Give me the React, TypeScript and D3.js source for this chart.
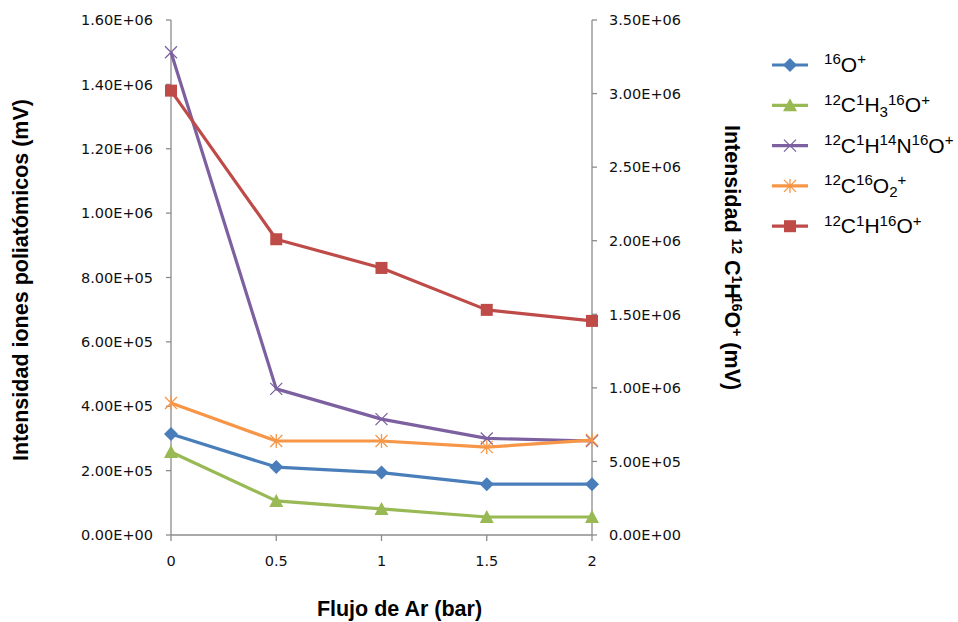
import React from "react";
import * as d3 from "d3";

const categories = ["0", "0.5", "1", "1.5", "2"];
const xValues = [0, 0.5, 1, 1.5, 2];
const seriesO = [314000, 211000, 194000, 158000, 158000];
const seriesCH3O = [258000, 106000, 81000, 56000, 56000];
const seriesCHNO = [1500000, 454000, 360000, 300000, 292000];
const seriesCO2 = [410000, 292000, 292000, 273000, 295000];
const seriesCHO = [3020000, 2010000, 1815000, 1530000, 1455000];
const leftTicks = [0, 200000, 400000, 600000, 800000, 1000000, 1200000, 1400000, 1600000];
const rightTicks = [0, 500000, 1000000, 1500000, 2000000, 2500000, 3000000, 3500000];

type Part = [string, "n" | "sup" | "sub"];
const labO: Part[] = [["16", "sup"], ["O", "n"], ["+", "sup"]];
const labCH3O: Part[] = [["12", "sup"], ["C", "n"], ["1", "sup"], ["H", "n"], ["3", "sub"], ["16", "sup"], ["O", "n"], ["+", "sup"]];
const labCHNO: Part[] = [["12", "sup"], ["C", "n"], ["1", "sup"], ["H", "n"], ["14", "sup"], ["N", "n"], ["16", "sup"], ["O", "n"], ["+", "sup"]];
const labCO2: Part[] = [["12", "sup"], ["C", "n"], ["16", "sup"], ["O", "n"], ["2", "sub"], ["+", "sup"]];
const labCHO: Part[] = [["12", "sup"], ["C", "n"], ["1", "sup"], ["H", "n"], ["16", "sup"], ["O", "n"], ["+", "sup"]];

const series = [
  { name: "O", values: seriesO, label: labO, color: "#4a7ebb", marker: "diamond", axis: "left" },
  { name: "CH3O", values: seriesCH3O, label: labCH3O, color: "#98b954", marker: "triangle", axis: "left" },
  { name: "CHNO", values: seriesCHNO, label: labCHNO, color: "#7d60a0", marker: "x", axis: "left" },
  { name: "CO2", values: seriesCO2, label: labCO2, color: "#f79646", marker: "star", axis: "left" },
  { name: "CHO", values: seriesCHO, label: labCHO, color: "#be4b48", marker: "square", axis: "right" },
];

function fmtE(v: number) {
  if (v === 0) return "0.00E+00";
  const e = Math.floor(Math.log10(v) + 1e-9);
  const m = v / Math.pow(10, e);
  return m.toFixed(2) + "E+" + String(e).padStart(2, "0");
}

function Marker({ type, x, y, color }: { type: string; x: number; y: number; color: string }) {
  if (type === "diamond") {
    const s = 7;
    return <path d={`M${x},${y - s}L${x + s},${y}L${x},${y + s}L${x - s},${y}Z`} fill={color} />;
  }
  if (type === "triangle") {
    const s = 7;
    return <path d={`M${x},${y - s}L${x + s},${y + s - 1}L${x - s},${y + s - 1}Z`} fill={color} />;
  }
  if (type === "square") {
    const s = 6;
    return <rect x={x - s} y={y - s} width={2 * s} height={2 * s} fill={color} />;
  }
  if (type === "x") {
    const s = 6;
    return (
      <path d={`M${x - s},${y - s}L${x + s},${y + s}M${x - s},${y + s}L${x + s},${y - s}`} stroke={color} strokeWidth={1.3} fill="none" />
    );
  }
  const s = 6;
  return (
    <path
      d={`M${x - s},${y - s}L${x + s},${y + s}M${x - s},${y + s}L${x + s},${y - s}M${x},${y - s - 1}L${x},${y + s + 1}`}
      stroke={color}
      strokeWidth={1.3}
      fill="none"
    />
  );
}

function Formula({ parts, size }: { parts: Part[]; size: number }) {
  const small = size * 0.72;
  let cur = 0;
  const out: React.ReactNode[] = [];
  parts.forEach((p, i) => {
    const target = p[1] === "sup" ? -size * 0.36 : p[1] === "sub" ? size * 0.2 : 0;
    const dy = target - cur;
    cur = target;
    out.push(
      <tspan key={i} dy={dy} fontSize={p[1] === "n" ? size : small}>
        {p[0]}
      </tspan>
    );
  });
  return <>{out}</>;
}

export default function App() {
  const W = 958, H = 622;
  const x0 = 171, x1 = 592, yTop = 20, yBot = 535;
  const x = d3.scaleLinear().domain([0, 2]).range([x0, x1]);
  const yL = d3.scaleLinear().domain([0, 1600000]).range([yBot, yTop]);
  const yR = d3.scaleLinear().domain([0, 3500000]).range([yBot, yTop]);
  const axisColor = "#8c8c8c";
  const tickFont = "'DejaVu Sans', Verdana, sans-serif";
  const arial = "'Liberation Sans', Arial, sans-serif";

  return (
    <svg width={W} height={H} style={{ position: "absolute", left: 0, top: 0, background: "#fff" }}>
      <rect width={W} height={H} fill="#fff" />
      {/* left axis */}
      <line x1={x0} x2={x0} y1={yTop} y2={yBot} stroke={axisColor} strokeWidth={1.3} />
      {leftTicks.map((t) => (
        <g key={"l" + t}>
          <line x1={x0 - 5} x2={x0} y1={yL(t)} y2={yL(t)} stroke={axisColor} strokeWidth={1.3} />
          <text x={153} y={yL(t)} dy="0.36em" textAnchor="end" fontFamily={tickFont} fontSize={14.5} fill="#111">
            {fmtE(t)}
          </text>
        </g>
      ))}
      {/* right axis */}
      <line x1={x1} x2={x1} y1={yTop} y2={yBot} stroke={axisColor} strokeWidth={1.3} />
      {rightTicks.map((t) => (
        <g key={"r" + t}>
          <line x1={x1} x2={x1 + 5} y1={yR(t)} y2={yR(t)} stroke={axisColor} strokeWidth={1.3} />
          <text x={609} y={yR(t)} dy="0.36em" textAnchor="start" fontFamily={tickFont} fontSize={14.5} fill="#111">
            {fmtE(t)}
          </text>
        </g>
      ))}
      {/* x axis */}
      <line x1={x0} x2={x1} y1={yBot} y2={yBot} stroke={axisColor} strokeWidth={1.3} />
      {xValues.map((v, i) => (
        <g key={"x" + v}>
          <line x1={x(v)} x2={x(v)} y1={yBot} y2={yBot + 6} stroke={axisColor} strokeWidth={1.3} />
          <text x={x(v)} y={566} textAnchor="middle" fontFamily={tickFont} fontSize={14.5} fill="#111">
            {categories[i]}
          </text>
        </g>
      ))}
      {/* series */}
      {series.map((s) => {
        const ys = s.axis === "left" ? yL : yR;
        const line = d3
          .line<number>()
          .x((_, i) => x(xValues[i]))
          .y((d) => ys(d));
        return (
          <g key={s.name}>
            <path d={line(s.values) || ""} fill="none" stroke={s.color} strokeWidth={3.2} strokeLinejoin="round" />
            {s.values.map((v, i) => (
              <Marker key={i} type={s.marker} x={x(xValues[i])} y={ys(v)} color={s.color} />
            ))}
          </g>
        );
      })}
      {/* axis titles */}
      <text
        transform={`translate(28,280) rotate(-90)`}
        textAnchor="middle"
        fontFamily={arial}
        fontWeight="bold"
        fontSize={21.5}
        fill="#000"
      >
        Intensidad iones poliatómicos (mV)
      </text>
      <text transform={`translate(725,125) rotate(90)`} textAnchor="start" fontFamily={arial} fontWeight="bold" fontSize={21.5} fill="#000">
        <tspan>Intensidad </tspan>
        <tspan dy={-7} fontSize={14}>12</tspan>
        <tspan dy={7}> C</tspan>
        <tspan dy={-7} fontSize={14}>1</tspan>
        <tspan dy={7}>H</tspan>
        <tspan dy={-7} fontSize={14} dx={-3}>16</tspan>
        <tspan dy={7}>O</tspan>
        <tspan dy={-7} fontSize={14}>+</tspan>
        <tspan dy={7}> (mV)</tspan>
      </text>
      <text x={399.5} y={616} textAnchor="middle" fontFamily={arial} fontWeight="bold" fontSize={21.5} fill="#000">
        Flujo de Ar (bar)
      </text>
      {/* legend */}
      {series.map((s, i) => {
        const ly = 65 + i * 40.3;
        return (
          <g key={"lg" + s.name}>
            <line x1={772} x2={808} y1={ly} y2={ly} stroke={s.color} strokeWidth={3.2} />
            <Marker type={s.marker} x={790} y={ly} color={s.color} />
            <text x={824} y={ly + 7} fontFamily={arial} fontSize={21} fill="#000">
              <Formula parts={s.label} size={21} />
            </text>
          </g>
        );
      })}
    </svg>
  );
}
